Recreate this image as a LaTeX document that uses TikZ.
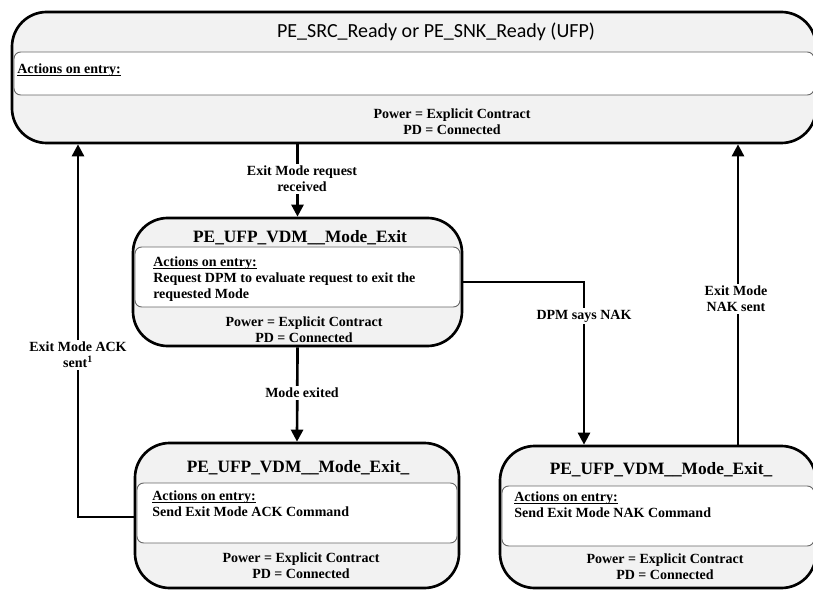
\documentclass[tikz,border=0pt]{standalone}
\usepackage{fontspec}
\setmainfont{Liberation Serif}
\newfontfamily\calibri{Carlito}
\usetikzlibrary{arrows.meta,fit}

% Fonts for state texts
\newcommand\sttext{\fontsize{10.5}{12}\selectfont\bfseries}
\newcommand\stname{\fontsize{13}{15}\selectfont\bfseries}
% Underline that sits just under the baseline
\newcommand\acthead[1]{\underline{\vphantom{A}\smash{#1}}}

\tikzset{
  statebox/.style={draw, line width=2pt, fill=black!5, rounded corners=26pt, inner sep=0pt},
  band/.style={draw=black!60, line width=0.7pt, fill=white, rounded corners=5pt},
  flow/.style={line width=2pt, -{Triangle[length=9pt,width=9pt]}},
  lbl/.style={fill=white, inner sep=1.5pt, align=center, font=\sttext},
  info/.style={align=center, font=\sttext, inner sep=0pt},
  entry/.style={align=left, font=\sttext, inner sep=0pt, anchor=north west},
  stitle/.style={font=\stname, inner sep=0pt}
}

\begin{document}
\begin{tikzpicture}[x=0.75pt, y=-0.75pt]
\useasboundingbox (0,0) rectangle (813,591);

% Ready state (top)
\node[statebox, fit={(12,12) (816,143)}] (ready) {};
\draw[band] (14,52) rectangle (814,95);
\node[font=\calibri\fontsize{15}{18}\selectfont, inner sep=0pt] (readyname) at (436,32) {PE\_SRC\_Ready or PE\_SNK\_Ready (UFP)};
\node[entry] (readyact) at (17,64) {\acthead{Actions on entry:}};
\node[info] (readypwr) at (452,122) {Power = Explicit Contract\\PD = Connected};

% Mode exit request
\node[statebox, fit={(133,218) (462,346)}] (modeexit) {};
\draw[band] (135,247) rectangle (460,307);
\node[stitle] (modeexitname) at (300,238) {PE\_UFP\_VDM\_\_Mode\_Exit};
\node[entry] (modeexitact) at (153,257) {\acthead{Actions on entry:}\\Request DPM to evaluate request to exit the\\requested Mode};
\node[info] (modeexitpwr) at (304,330) {Power = Explicit Contract\\PD = Connected};

% ACK state (bottom left)
\node[statebox, fit={(135,443) (459,588)}] (ackexit) {};
\draw[band] (137,483) rectangle (457,543);
\node[stitle] (ackexitname) at (298,468) {PE\_UFP\_VDM\_\_Mode\_Exit\_};
\node[entry] (ackexitact) at (152,491) {\acthead{Actions on entry:}\\Send Exit Mode ACK Command};
\node[info] (ackexitpwr) at (301,566) {Power = Explicit Contract\\PD = Connected};

% NAK state (bottom right)
\node[statebox, fit={(500,446) (816,588)}] (nakexit) {};
\draw[band] (502,486) rectangle (814,546);
\node[stitle] (nakexitname) at (661,470) {PE\_UFP\_VDM\_\_Mode\_Exit\_};
\node[entry] (nakexitact) at (514,492) {\acthead{Actions on entry:}\\Send Exit Mode NAK Command};
\node[info] (nakexitpwr) at (665,567) {Power = Explicit Contract\\PD = Connected};

% Transitions
\coordinate (ackbend) at (78,517);
\draw[flow] (ackexit.west |- ackbend) -- (ackbend) -- (ready.south -| ackbend);
\node[lbl] (acklbl) at (78,355) {Exit Mode ACK\\sent\textsuperscript{1}};

\draw[flow] (ready.south -| modeexit.north) -- (modeexit.north);
\node[lbl] (reqlbl) at (302,179) {Exit Mode request\\received};

\draw[flow] (modeexit.south) -- (ackexit.north);
\node[lbl] (exitlbl) at (302,393) {Mode exited};

\coordinate (nakbend) at (584,282);
\draw[flow] (modeexit.east |- nakbend) -- (nakbend) -- (nakexit.north -| nakbend);
\node[lbl] (naklbl) at (584,316) {DPM says NAK};

\coordinate (naksent) at (738,0);
\draw[flow] (nakexit.north -| naksent) -- (ready.south -| naksent);
\node[lbl] (sentlbl) at (736,299) {Exit Mode\\NAK sent};

\end{tikzpicture}
\end{document}
